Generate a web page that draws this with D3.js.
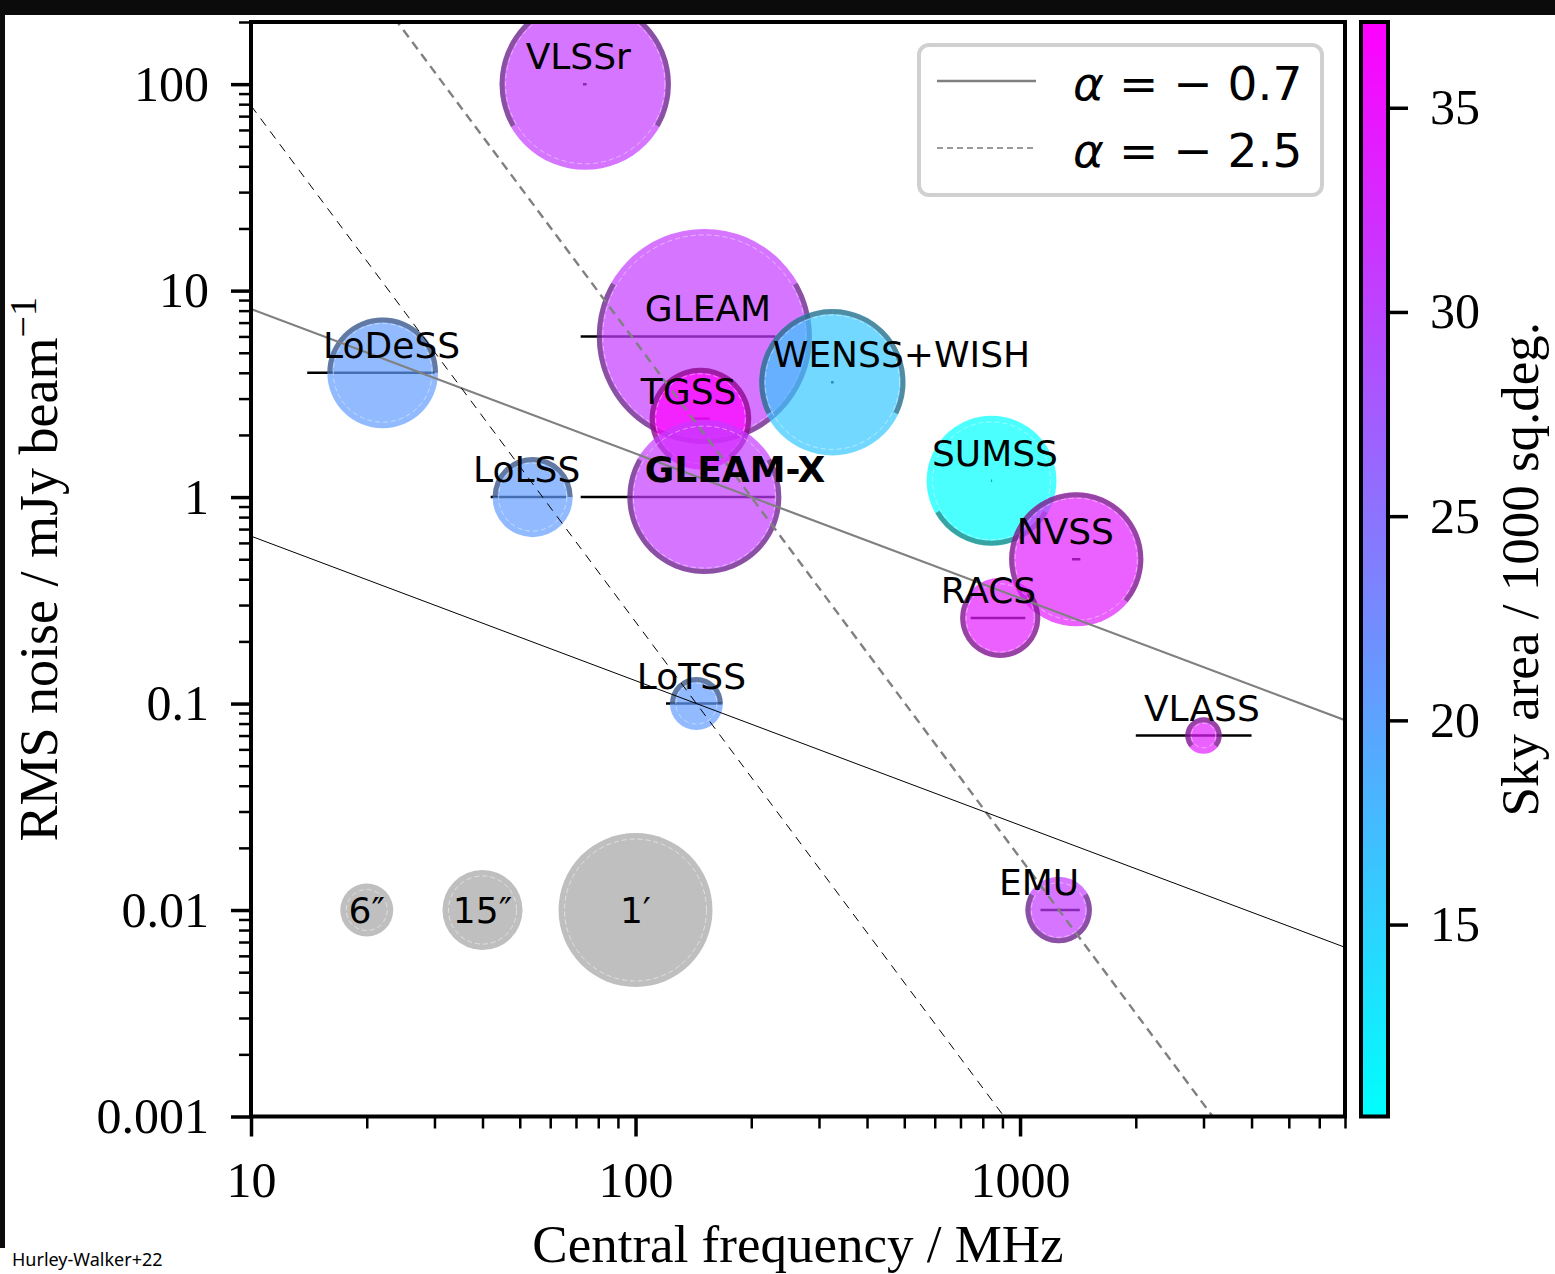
<!DOCTYPE html>
<html>
<head>
<meta charset="utf-8">
<script src="https://cdn.jsdelivr.net/npm/d3@7"></script>
<style>
  html, body { margin: 0; padding: 0; background: #fff; }
  svg { display: block; }
</style>
</head>
<body>
<svg id="chart" width="1555" height="1274"></svg>
<script>
// ---- Radio continuum surveys: sensitivity versus observing frequency ----
const surveys          = ["VLSSr", "LoDeSS", "GLEAM", "WENSS+WISH", "TGSS", "GLEAM-X", "LoLSS", "LoTSS", "SUMSS", "NVSS", "RACS", "VLASS", "EMU"];
const freqMHz          = [74, 22, 151, 325, 147.5, 151, 54, 144, 843, 1400, 888, 3000, 1260];
const rmsMJy           = [100, 4, 6, 3.6, 2.4, 1, 1, 0.1, 1.2, 0.5, 0.26, 0.07, 0.01];
const bandLowMHz       = [73, 14, 72, 322.5, 140, 72, 42, 120, 840, 1365, 744, 2000, 1130];
const bandHighMHz      = [74.6, 30, 231, 327.5, 156, 231, 66, 168, 846, 1435, 1032, 4000, 1430];
const resolutionArcsec = [75, 30, 120, 54, 25, 60, 15, 6, 42, 45, 15, 2.5, 10];
const skyArea          = [30.9, 20.6, 30.9, 16.1, 37.1, 30.9, 20.6, 20.6, 10.3, 33.9, 34.2, 33.9, 30.9]; // 1000 sq.deg.
const decMinDeg        = [-30, 0, -90, -26, -53, -90, 0, 0, -90, -40, -90, -40, -90];
const decMaxDeg        = [90, 90, 30, 90, 90, 30, 90, 90, -30, 90, 41, 90, 30];
const boldSurveys      = ["GLEAM-X"];

// resolution key
const beamLabels = ["6″", "15″", "1′"];
const beamArcsec = [6, 15, 60];
const beamFreqMHz = [20, 40, 100];
const beamRmsMJy = [0.01, 0.01, 0.01];

// spectral-index guide lines  S = S0 (nu/nu0)^alpha
const guideAlpha  = [-0.7, -2.5, -0.7, -2.5];
const guideNu0    = [200, 200, 144, 144];
const guideS0     = [1, 1, 0.1, 0.1];
const legendAlpha = [-0.7, -2.5];

// axes
const xDomain = [10, 7000];
const yDomain = [0.001, 200];
const xTickValues = [10, 100, 1000];
const xTickLabels = ["10", "100", "1000"];
const yTickValues = [0.001, 0.01, 0.1, 1, 10, 100];
const yTickLabels = ["0.001", "0.01", "0.1", "1", "10", "100"];
const areaDomain = [10.3, 37.1];
const areaTicks = [15, 20, 25, 30, 35];

// ---------------------------------------------------------------------
const svg = d3.select("#chart");
const W = 1555, H = 1274;
const box = { left: 251, right: 1345, top: 22, bottom: 1116.5 };
const serif = "'Liberation Serif', 'DejaVu Serif', serif";
const sans = "'DejaVu Sans', sans-serif";

svg.append("rect").attr("width", W).attr("height", H).attr("fill", "#fff");
svg.append("rect").attr("x", 0).attr("y", 0).attr("width", W).attr("height", 15).attr("fill", "#0b0b0b");
svg.append("rect").attr("x", 0).attr("y", 0).attr("width", 5).attr("height", 1248).attr("fill", "#0b0b0b");

const x = d3.scaleLog().domain(xDomain).range([box.left, box.right]);
const y = d3.scaleLog().domain(yDomain).range([box.bottom, box.top]);
const colour = d3.scaleLinear().domain(areaDomain).range(["#00ffff", "#ff00ff"]);
const rCore = d3.scaleSqrt().domain([0, 60]).range([0, 9.53 * Math.sqrt(60)]);
const radius = a => rCore(a) + 3.15;

svg.append("defs").append("clipPath").attr("id", "plotclip")
  .append("rect").attr("x", box.left).attr("y", box.top)
  .attr("width", box.right - box.left).attr("height", box.bottom - box.top);

const plot = svg.append("g").attr("clip-path", "url(#plotclip)");
const idx = surveys.map((_, i) => i);

// bandwidth bars
plot.append("g").selectAll("line").data(idx).join("line")
  .attr("x1", i => x(bandLowMHz[i])).attr("x2", i => x(bandHighMHz[i]))
  .attr("y1", i => y(rmsMJy[i])).attr("y2", i => y(rmsMJy[i]))
  .attr("stroke", "#000").attr("stroke-width", 2.5);

// resolution key circles
const key = plot.append("g");
beamArcsec.forEach((a, i) => {
  const cx = x(beamFreqMHz[i]), cy = y(beamRmsMJy[i]), r = radius(a);
  key.append("circle").attr("cx", cx).attr("cy", cy).attr("r", r).attr("fill", "#bfbfbf");
  key.append("circle").attr("cx", cx).attr("cy", cy).attr("r", r - 6)
    .attr("fill", "none").attr("stroke", "#fff").attr("stroke-opacity", 0.5)
    .attr("stroke-width", 1).attr("stroke-dasharray", "5,3");
});

// survey discs with declination-coverage rings
const deg = Math.PI / 180;
idx.forEach(i => {
  const cx = x(freqMHz[i]), cy = y(rmsMJy[i]), r = radius(resolutionArcsec[i]);
  const g = plot.append("g").attr("transform", `translate(${cx},${cy})`);
  g.append("circle").attr("r", r).attr("fill", colour(skyArea[i])).attr("fill-opacity", 0.7);
  const arc = d3.arc().innerRadius(r - 5).outerRadius(r);
  const dmin = decMinDeg[i], dmax = decMaxDeg[i];
  [[(90 - dmax) * deg, (90 - dmin) * deg], [(dmin - 90) * deg, (dmax - 90) * deg]].forEach(([a0, a1]) => {
    g.append("path").attr("d", arc({ startAngle: a0, endAngle: a1 }))
      .attr("fill", "#1a1a1a").attr("fill-opacity", 0.4);
  });
  g.append("circle").attr("r", r - 6).attr("fill", "none")
    .attr("stroke", "#fff").attr("stroke-opacity", 0.45).attr("stroke-width", 1)
    .attr("stroke-dasharray", "5,3");
});

// spectral-index guide lines
const guideStyle = [
  { stroke: "#808080", width: 2.2, dash: null },
  { stroke: "#808080", width: 2.4, dash: "9,6" },
  { stroke: "#000", width: 1, dash: null },
  { stroke: "#000", width: 1, dash: "9,7" }
];
guideAlpha.forEach((a, i) => {
  const S = nu => guideS0[i] * Math.pow(nu / guideNu0[i], a);
  const pts = xDomain.map(nu => [x(nu), y(S(nu))]);
  const st = guideStyle[i];
  plot.append("path").attr("d", d3.line()(pts)).attr("fill", "none")
    .attr("stroke", st.stroke).attr("stroke-width", st.width)
    .attr("stroke-dasharray", st.dash);
});

// survey names
svg.append("g").selectAll("text").data(idx).join("text")
  .attr("x", i => x(freqMHz[i] * 0.7))
  .attr("y", i => y(rmsMJy[i]) - 15)
  .attr("font-family", sans).attr("font-size", 36)
  .attr("font-weight", i => boldSurveys.includes(surveys[i]) ? "bold" : "normal")
  .attr("fill", "#000")
  .text(i => surveys[i]);

// resolution key labels
svg.append("g").selectAll("text").data(beamLabels).join("text")
  .attr("x", (d, i) => x(beamFreqMHz[i]))
  .attr("y", (d, i) => y(beamRmsMJy[i]))
  .attr("dy", "0.35em").attr("text-anchor", "middle")
  .attr("font-family", sans).attr("font-size", 36).attr("fill", "#000")
  .text(d => d);

// frame
svg.append("rect").attr("x", box.left).attr("y", box.top)
  .attr("width", box.right - box.left).attr("height", box.bottom - box.top)
  .attr("fill", "none").attr("stroke", "#000").attr("stroke-width", 4);

// axes
function minorTicks(domain) {
  const out = [];
  for (let k = -4; k <= 4; k++) {
    for (let m = 2; m <= 9; m++) {
      const v = m * Math.pow(10, k);
      if (v >= domain[0] * 0.999 && v <= domain[1] * 1.001) out.push(v);
    }
  }
  return out;
}
function styleAxis(g, width) {
  g.select(".domain").remove();
  g.selectAll(".tick line").attr("stroke", "#000").attr("stroke-width", width);
  g.selectAll("text").attr("font-family", serif).attr("font-size", 50).attr("fill", "#000");
}
svg.append("g").attr("transform", `translate(0,${box.bottom})`)
  .call(d3.axisBottom(x).tickValues(minorTicks(xDomain)).tickSize(12).tickFormat(""))
  .call(g => styleAxis(g, 2.5));
svg.append("g").attr("transform", `translate(0,${box.bottom})`)
  .call(d3.axisBottom(x).tickValues(xTickValues).tickSize(20).tickPadding(25)
    .tickFormat((d, i) => xTickLabels[i]))
  .call(g => styleAxis(g, 3.5));
svg.append("g").attr("transform", `translate(${box.left},0)`)
  .call(d3.axisLeft(y).tickValues(minorTicks(yDomain)).tickSize(12).tickFormat(""))
  .call(g => styleAxis(g, 2.5));
svg.append("g").attr("transform", `translate(${box.left},0)`)
  .call(d3.axisLeft(y).tickValues(yTickValues).tickSize(20).tickPadding(22)
    .tickFormat((d, i) => yTickLabels[i]))
  .call(g => styleAxis(g, 3.5));

// legend
const leg = svg.append("g");
leg.append("rect").attr("x", 919).attr("y", 45).attr("width", 403).attr("height", 150).attr("rx", 10)
  .attr("fill", "#fff").attr("fill-opacity", 0.85).attr("stroke", "#d0d0d0").attr("stroke-width", 4);
const legendStyle = [
  { stroke: "#808080", width: 2.5, dash: null },
  { stroke: "#999", width: 2, dash: "6,4" }
];
legendAlpha.forEach((a, i) => {
  const ly = 81 + i * 67;
  leg.append("line").attr("x1", 937).attr("x2", 1036).attr("y1", ly).attr("y2", ly)
    .attr("stroke", legendStyle[i].stroke).attr("stroke-width", legendStyle[i].width)
    .attr("stroke-dasharray", legendStyle[i].dash);
  const t = leg.append("text").attr("x", 1073).attr("y", ly + 19)
    .attr("font-family", sans).attr("font-size", 47).attr("fill", "#000");
  t.append("tspan").attr("font-style", "italic").text("α");
  t.append("tspan").text(" = − " + Math.abs(a).toFixed(1));
});

// colour bar
const cb = { left: 1361, right: 1388 };
const cy = d3.scaleLinear().domain(areaDomain).range([box.bottom, box.top]);
const grad = svg.select("defs").append("linearGradient").attr("id", "coolgrad")
  .attr("x1", 0).attr("y1", 1).attr("x2", 0).attr("y2", 0);
grad.append("stop").attr("offset", 0).attr("stop-color", colour(areaDomain[0]));
grad.append("stop").attr("offset", 1).attr("stop-color", colour(areaDomain[1]));
svg.append("rect").attr("x", cb.left).attr("y", box.top)
  .attr("width", cb.right - cb.left).attr("height", box.bottom - box.top)
  .attr("fill", "url(#coolgrad)").attr("stroke", "#000").attr("stroke-width", 4);
svg.append("g").attr("transform", `translate(${cb.right},0)`)
  .call(d3.axisRight(cy).tickValues(areaTicks).tickSize(20).tickPadding(22).tickFormat(d3.format("d")))
  .call(g => styleAxis(g, 3.5));

// axis titles
svg.append("text").attr("x", (box.left + box.right) / 2).attr("y", 1262)
  .attr("text-anchor", "middle").attr("font-family", serif).attr("font-size", 53).attr("fill", "#000")
  .text("Central frequency / MHz");
const yl = svg.append("text").attr("transform", `translate(57,${(box.top + box.bottom) / 2}) rotate(-90)`)
  .attr("text-anchor", "middle").attr("font-family", serif).attr("font-size", 54).attr("fill", "#000");
yl.append("tspan").text("RMS noise / mJy beam");
yl.append("tspan").attr("dy", -21).attr("font-size", 38).text("−1");
svg.append("text").attr("transform", `translate(1538,${(box.top + box.bottom) / 2}) rotate(-90)`)
  .attr("text-anchor", "middle").attr("font-family", serif).attr("font-size", 53).attr("fill", "#000")
  .text("Sky area / 1000 sq.deg.");

svg.append("text").attr("x", 12).attr("y", 1266)
  .attr("font-family", "'Noto Sans', sans-serif").attr("font-size", 18).attr("fill", "#000")
  .text("Hurley-Walker+22");
</script>
</body>
</html>
